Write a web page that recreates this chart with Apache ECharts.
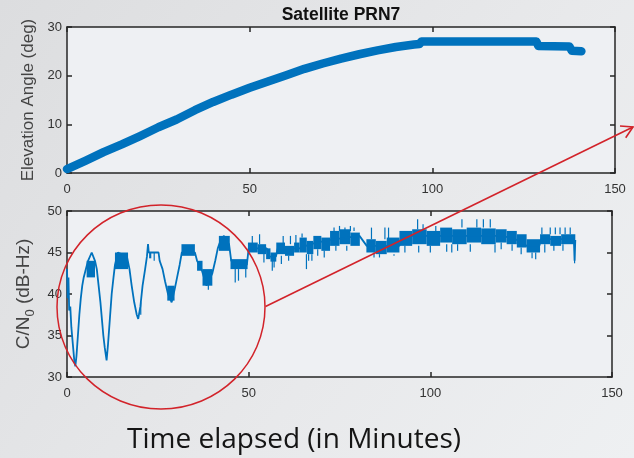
<!DOCTYPE html>
<html><head><meta charset="utf-8">
<script src="https://cdn.jsdelivr.net/npm/echarts@6/dist/echarts.min.js"></script>
<style>html,body{margin:0;padding:0;background:#e6e7e9;} #c{width:634px;height:458px;}</style>
</head><body><div id="c"></div>
<script>
// ---- data ----
const xTicks = [0, 50, 100, 150];
const elevTicks = [0, 10, 20, 30];
const cnTicks = [30, 35, 40, 45, 50];

// Elevation angle (deg) vs time (min)
const elevT = [0,5,10,15,20,25,30,35,40,45,50,55,60,65,70,75,80,85,90,95,96.5,97,128.5,129,137.5,138.2,140.8];
const elevV = [0.8,2.5,4.3,5.9,7.6,9.4,11.0,12.9,14.6,16.1,17.5,18.8,20.1,21.4,22.5,23.5,24.4,25.2,25.9,26.4,26.5,27.0,27.0,26.1,26.0,25.1,25.0];

// C/N0 main trace
const cnT = [0,0.2,0.4,0.6,0.9,1.2,1.6,2.0,2.3,2.6,
  3.0,3.4,3.8,4.2,4.6,5.2,5.8,6.8,7.7,8.2,
  8.7,9.2,9.6,10.0,10.4,10.9,11.3,11.8,12.3,12.8,
  13.2,14.0,16.5,17.2,17.8,18.5,19.2,19.6,20.2,20.8,
  21.5,22.0,22.3,22.5,25.2,25.5,26.3,27.0,27.8,28.8,
  29.6,30.3,31.0,31.6,35.2,35.8,37.0,38.4,40.0,40.8,
  41.5,42.3,43.2,44.6,45.2,49.5,50.0,55.0,55.5,57.5,
  58.0,64.0,67.0,72.0,80.5,82.5,91.5,92.0,105,120,
  124,126.5,130,130.5,139.5,139.7,139.9];
const cnV = [43,39.5,42,38,38.5,36,34,32,31.3,32.5,
  35,37.5,39.5,41,42,43,44,45,44,43,
  41,39,37,35,33.5,32,34,37,40,42,
  43.5,45,44.5,43,41,39,37.5,37,38.5,41,
  43,44.5,46,45,45,44,43,41.5,40,39,
  40.5,42,43.5,45,45,44,43,41,42.5,44,
  45.5,46.5,47,46,44,43.5,45.5,45.5,44.5,44.5,
  45.5,45.5,46,46.5,47,45.8,45.8,47,47,47,
  46.5,45.8,45.8,46.6,46.6,44,46.5];

// C/N0 dense fluctuation bands: start, end, low, high
const bandStart = [5.4,13.2,22.6,27.6,31.5,35.8,37.3,41.8,45.0,
  49.8,52.5,54.8,56.0,57.6,60.0,62.5,64.0,66.0,67.8,70.0,72.4,75.0,78.0,
  82.4,85.0,88.0,91.5,95.0,99.0,102.7,106.0,110.0,114.0,118.0,121.0,123.8,126.5,130.2,133.0,136.0];
const bandEnd   = [7.7,16.8,23.2,29.6,35.2,37.3,40.0,44.8,49.7,
  52.5,54.8,56.0,57.6,60.0,62.5,64.0,66.0,67.8,70.0,72.4,75.0,78.0,80.6,
  85.0,88.0,91.5,95.0,99.0,102.7,106.0,110.0,114.0,118.0,121.0,123.8,126.5,130.2,133.0,136.0,139.9];
const bandLo    = [42.0,43.0,44.3,39.2,44.6,42.8,41.0,45.2,43.0,
  45.0,44.8,44.2,43.9,44.8,44.6,45.0,45.0,44.8,45.4,45.2,45.8,46.0,45.8,
  45.0,44.8,45.0,45.8,46.0,45.8,46.2,46.0,46.2,46.0,46.2,46.0,45.6,45.0,46.0,45.8,46.0];
const bandHi    = [44.0,45.0,45.0,41.0,46.0,44.0,43.0,47.0,44.2,
  46.2,46.0,45.5,45.0,46.2,45.8,46.2,46.8,46.4,47.0,46.8,47.6,47.8,47.4,
  46.6,46.4,46.8,47.6,47.8,47.6,48.0,47.8,48.0,47.9,47.8,47.6,47.2,46.6,47.2,47.0,47.2];

// C/N0 single spikes: time, from, to
const spikeT    = [46.3,47.2,49.2,51.0,53.0,56.5,57.0,59.0,59.5,61.5,63.0,64.7,65.9,66.5,67.4,73.5,75.0,76.5,78.0,79.0,74.0,77.0,83.8,87.5,88.5,86.0,90.0,96.5,96.8,100.0,104.5,105.9,108.7,111.0,112.8,114.6,116.5,117.8,130.7,133.0,134.4,135.7,137.1,138.5,131.5,134.0,136.5,139.7,
  20.3,24.0,38.9,54.2,61.0,69.0,70.8,84.5,93.0,98.0,101.5,107.5,119.5,122.5,125.0,128.0,129.0];
const spikeFrom = [43,43,43,46,46,44,44,44.6,46,46,46,46.8,44.8,44.8,44.8,47.6,47.6,47.6,47.6,47.6,45.8,45.8,46.6,46.6,46.6,44.8,44.8,47.8,45.8,45.8,46,46,48,46,48,48,48,46,47.2,47.2,47.2,47.2,47.2,47.2,46,46,46,46,
  39,45,42,45,44.6,45.4,45.2,45,45.8,47.8,47.6,46,46.2,46,45.6,45,45];
const spikeTo   = [41.4,41.6,42.0,47,47.2,42.8,43.2,43.6,47,47,47.1,47.3,43.0,44.0,44.0,48,48.2,48,48.2,48,45.2,45.2,48,48,48,44.4,44.6,49,45.0,45.0,45.1,45.0,49,45.1,49,49,49,45.0,48,48,48,48,48,48,45,45.2,45.2,43.7,
  37.5,44,40.5,43.8,44,44.6,44.4,44.4,45,48.4,48.2,45.2,45.4,45.2,44.8,44.3,44.2];

// ---- chart ----
const BLUE = '#0072BD';
const AX = '#262626';
const F = 'Liberation Sans, Arial, sans-serif';

const elevData = elevT.map((t, i) => [t, elevV[i]]);
const cnData = cnT.map((t, i) => [t, cnV[i]]);
const bandData = bandStart.map((s, i) => [s, bandEnd[i], bandLo[i], bandHi[i]]);
const spikeData = spikeT.map((t, i) => [t, spikeFrom[i], spikeTo[i]]);

function xAx(grid, pos) {
  return {
    gridIndex: grid, type: 'value', position: pos,
    min: xTicks[0], max: xTicks[xTicks.length - 1], interval: xTicks[1] - xTicks[0],
    axisLine: { show: true, onZero: false, lineStyle: { color: AX, width: 1.5 } },
    axisTick: { show: true, inside: true, length: 5, lineStyle: { color: AX, width: 1.5 } },
    axisLabel: { show: pos === 'bottom', color: '#333', fontSize: 13, margin: 10, fontFamily: F },
    splitLine: { show: false }
  };
}
function yAx(grid, pos, ticks, name) {
  const o = {
    gridIndex: grid, type: 'value', position: pos,
    min: ticks[0], max: ticks[ticks.length - 1], interval: ticks[1] - ticks[0],
    axisLine: { show: true, onZero: false, lineStyle: { color: AX, width: 1.5 } },
    axisTick: { show: true, inside: true, length: 5, lineStyle: { color: AX, width: 1.5 } },
    axisLabel: { show: pos === 'left', color: '#333', fontSize: 13, margin: 5, fontFamily: F },
    splitLine: { show: false }
  };
  if (name) {
    o.name = name;
    o.nameLocation = 'middle';
    o.nameTextStyle = { color: '#444', fontSize: 17, fontFamily: F };
  }
  return o;
}

const yTop = yAx(0, 'left', elevTicks, 'Elevation Angle (deg)');
yTop.nameGap = 25;
const yBot = yAx(1, 'left', cnTicks, '{a|C/N}{s|0}{a| (dB-Hz)}');
yBot.nameGap = 28;
yBot.nameTextStyle.rich = {
  a: { color: '#444', fontSize: 19, fontFamily: F, lineHeight: 26, verticalAlign: 'middle' },
  s: { color: '#444', fontSize: 13, fontFamily: F, lineHeight: 13, verticalAlign: 'bottom' }
};

const chart = echarts.init(document.getElementById('c'), null, { renderer: 'canvas' });
chart.setOption({
  animation: false,
  backgroundColor: {
    type: 'linear', x: 0, y: 0, x2: 1, y2: 1,
    colorStops: [{ offset: 0, color: '#dcdddf' }, { offset: 0.6, color: '#e8e9eb' }, { offset: 1, color: '#eef0f2' }]
  },
  grid: [
    { left: 67, top: 27, width: 548, height: 146, show: true, backgroundColor: '#eef0f3', borderWidth: 0 },
    { left: 67, top: 211, width: 545, height: 166, show: true, backgroundColor: '#eef0f3', borderWidth: 0 }
  ],
  xAxis: [xAx(0, 'bottom'), xAx(0, 'top'), xAx(1, 'bottom'), xAx(1, 'top')],
  yAxis: [yTop, yAx(0, 'right', elevTicks), yBot, yAx(1, 'right', cnTicks)],
  series: [
    {
      type: 'line', xAxisIndex: 0, yAxisIndex: 0, data: elevData, showSymbol: false,
      lineStyle: { color: BLUE, width: 8.5, join: 'round', cap: 'round' }, z: 3
    },
    {
      type: 'line', xAxisIndex: 2, yAxisIndex: 2, data: cnData, showSymbol: false,
      lineStyle: { color: BLUE, width: 1.8 }, z: 3
    },
    {
      type: 'custom', xAxisIndex: 2, yAxisIndex: 2, data: bandData, z: 3,
      encode: { x: [0, 1], y: [2, 3] },
      renderItem: function (params, api) {
        const p0 = api.coord([api.value(0), api.value(3)]);
        const p1 = api.coord([api.value(1), api.value(2)]);
        return { type: 'rect', shape: { x: p0[0], y: p0[1], width: p1[0] - p0[0], height: p1[1] - p0[1] }, style: { fill: BLUE } };
      }
    },
    {
      type: 'custom', xAxisIndex: 2, yAxisIndex: 2, data: spikeData, z: 3,
      encode: { x: 0, y: [1, 2] },
      renderItem: function (params, api) {
        const a = api.coord([api.value(0), api.value(1)]);
        const b = api.coord([api.value(0), api.value(2)]);
        return { type: 'line', shape: { x1: a[0], y1: a[1], x2: b[0], y2: b[1] }, style: { stroke: BLUE, lineWidth: 1.2 } };
      }
    }
  ],
  graphic: [
    { type: 'text', x: 341, y: 15, z: 50, style: { text: 'Satellite PRN7', fill: '#111', font: 'bold 17.5px ' + F, align: 'center', verticalAlign: 'middle' } },
    { type: 'text', left: 127, top: 426, z: 50, style: { text: 'Time elapsed (in Minutes)', fill: '#151515', font: '28px "Open Sans", sans-serif' } },
    { type: 'ellipse', z: 60, shape: { cx: 161, cy: 307, rx: 104, ry: 102 }, style: { fill: null, stroke: '#d2232a', lineWidth: 1.5 } },
    { type: 'line', z: 60, shape: { x1: 265.5, y1: 306.5, x2: 633, y2: 127 }, style: { stroke: '#d2232a', lineWidth: 1.6 } },
    { type: 'polyline', z: 60, shape: { points: [[620, 126], [633, 127], [625.7, 137.8]] }, style: { fill: null, stroke: '#d2232a', lineWidth: 1.6 } }
  ]
});
</script>
</body></html>
